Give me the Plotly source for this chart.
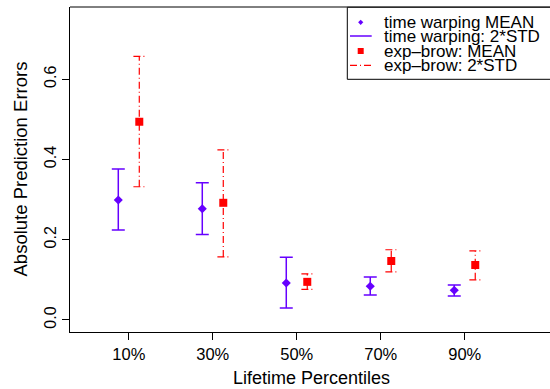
import plotly.graph_objects as go

# ---- data ----
categories = [10, 30, 50, 70, 90]
tick_labels = ["10%", "30%", "50%", "70%", "90%"]

tw_mean = [0.299, 0.277, 0.092, 0.084, 0.074]
tw_upper = [0.376, 0.342, 0.156, 0.107, 0.087]
tw_lower = [0.224, 0.213, 0.030, 0.062, 0.060]

eb_mean = [0.494, 0.292, 0.095, 0.147, 0.137]
eb_upper = [0.657, 0.424, 0.115, 0.175, 0.172]
eb_lower = [0.332, 0.157, 0.076, 0.120, 0.100]

y_ticks = [0.0, 0.2, 0.4, 0.6]
y_tick_labels = ["0.0", "0.2", "0.4", "0.6"]

BLUE = "#6600FF"
RED = "#FF0000"
FONT = "Liberation Sans, Arial, sans-serif"

offset = 2.5
tw_x = [c - offset for c in categories]
eb_x = [c + offset for c in categories]

# geometry
W, H = 550, 389
ML, MR, MT, MB = 70, 0, 7, 57
PW = W - ML - MR
PH = H - MT - MB

def px(x):
    return (x - ML) / PW

def py(y):
    return (H - MB - y) / PH

fig = go.Figure()

# time warping mean with 2*STD bars
fig.add_trace(go.Scatter(
    x=tw_x, y=tw_mean, mode="markers",
    marker=dict(symbol="diamond", size=7, color=BLUE),
    error_y=dict(type="data", symmetric=False,
                 array=[u - m for u, m in zip(tw_upper, tw_mean)],
                 arrayminus=[m - l for m, l in zip(tw_mean, tw_lower)],
                 color=BLUE, thickness=1.5, width=6.5),
    showlegend=False,
))

# exp-brow 2*STD bars (dot-dash)
cap = 1.4
ex, ey = [], []
for x, lo, hi in zip(eb_x, eb_lower, eb_upper):
    ex += [x, x, None, x - cap, x + cap, None, x - cap, x + cap, None]
    ey += [lo, hi, None, hi, hi, None, lo, lo, None]
fig.add_trace(go.Scatter(
    x=ex, y=ey, mode="lines",
    line=dict(color=RED, width=1.2, dash="7px,3px,1px,3px"),
    showlegend=False, connectgaps=False,
))

fig.add_trace(go.Scatter(
    x=eb_x, y=eb_mean, mode="markers",
    marker=dict(symbol="square", size=8, color=RED),
    showlegend=False,
))

shapes = []
# top border of box
shapes.append(dict(type="line", xref="paper", yref="paper", x0=0, x1=1.05, y0=1, y1=1,
                   line=dict(color="black", width=1)))

# manual legend
lx0, ly0, ly1 = 347.3, 7.3, 79.3
shapes.append(dict(type="rect", xref="paper", yref="paper",
                   x0=px(lx0), x1=px(600), y0=py(ly1), y1=py(ly0),
                   line=dict(color="black", width=1), fillcolor="white", layer="above"))
rows = [22.3, 36.0, 51.0, 65.3]
sx = 360.7
d = 2.6
shapes.append(dict(type="path", xref="paper", yref="paper",
                   path=f"M {px(sx)},{py(rows[0]-d)} L {px(sx+d)},{py(rows[0])} L {px(sx)},{py(rows[0]+d)} L {px(sx-d)},{py(rows[0])} Z",
                   fillcolor=BLUE, line=dict(color=BLUE, width=0), layer="above"))
shapes.append(dict(type="line", xref="paper", yref="paper",
                   x0=px(350), x1=px(371.7), y0=py(rows[1]), y1=py(rows[1]),
                   line=dict(color=BLUE, width=1.5), layer="above"))
s = 3.0
shapes.append(dict(type="rect", xref="paper", yref="paper",
                   x0=px(sx - s), x1=px(sx + s), y0=py(rows[2] + s), y1=py(rows[2] - s),
                   fillcolor=RED, line=dict(color=RED, width=0), layer="above"))
shapes.append(dict(type="line", xref="paper", yref="paper",
                   x0=px(350), x1=px(371.7), y0=py(rows[3]), y1=py(rows[3]),
                   line=dict(color=RED, width=1.2, dash="7px,3px,1px,3px"), layer="above"))

legend_texts = ["time warping MEAN", "time warping: 2*STD", "exp\u2013brow: MEAN", "exp\u2013brow: 2*STD"]
annotations = []
for t, r in zip(legend_texts, rows):
    annotations.append(dict(text=t, xref="paper", yref="paper", x=px(381.7), y=py(r),
                            xanchor="left", yanchor="middle", showarrow=False,
                            font=dict(size=17, color="black", family=FONT)))

annotations.append(dict(text="Lifetime Percentiles", xref="paper", yref="paper",
                        x=px(311), y=0, yanchor="middle", xanchor="center", yshift=-46,
                        showarrow=False, font=dict(size=18, color="black", family=FONT)))
annotations.append(dict(text="Absolute Prediction Errors", xref="paper", yref="paper",
                        x=0, y=0.5, xanchor="center", yanchor="middle", xshift=-50,
                        textangle=-90, showarrow=False,
                        font=dict(size=18.5, color="black", family=FONT)))

fig.update_layout(
    width=W, height=H,
    margin=dict(l=ML, r=MR, t=MT, b=MB),
    paper_bgcolor="white", plot_bgcolor="white",
    font=dict(family=FONT, color="black", size=16),
    shapes=shapes, annotations=annotations,
    showlegend=False,
)
fig.update_xaxes(range=[-4, 110.3], showgrid=False, zeroline=False,
                 showline=True, linecolor="black", linewidth=1,
                 ticks="outside", ticklen=7, tickcolor="black",
                 tickvals=categories, ticktext=tick_labels,
                 tickfont=dict(size=16.5, family=FONT))
fig.update_yaxes(range=[-0.03, 0.78], showgrid=False, zeroline=False,
                 showline=True, linecolor="black", linewidth=1,
                 ticks="outside", ticklen=7, tickcolor="black",
                 tickvals=y_ticks, ticktext=y_tick_labels, tickangle=-90,
                 tickfont=dict(size=16, family=FONT))

fig.write_html("out.html")
